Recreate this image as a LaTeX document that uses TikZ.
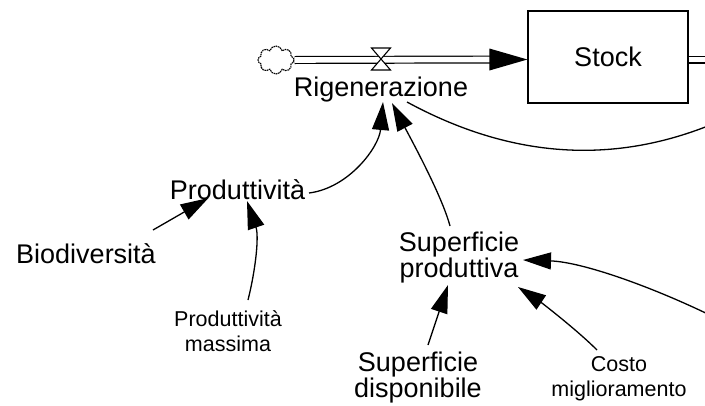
\documentclass[tikz,border=0pt]{standalone}
\usepackage{fontspec}
\setmainfont{Liberation Sans}
\usetikzlibrary{arrows.meta,shapes.symbols,calc}

\begin{document}
\begin{tikzpicture}[x=1pt,y=-1pt,
  big/.style={inner sep=0pt, font=\fontsize{27}{26}\selectfont},
  bigtwo/.style={big, align=center},
  sm/.style={inner sep=0pt, font=\fontsize{21.5}{25}\selectfont, align=center},
  link/.style={line width=1.3pt, -{Triangle[length=28pt,width=17pt]}},
  plainlink/.style={line width=1.3pt},
  pipe/.style={double=white, double distance=5.6pt, line width=1.2pt},
  valvebox/.style={fill=white, draw=black, line width=1.1pt, line join=miter},
]
\useasboundingbox (0,0) rectangle (705,405);
\clip (0,0) rectangle (705,405);

% stock and flow
\node[cloud, cloud puffs=8, cloud ignores aspect, draw, line width=1.1pt,
      dash pattern=on 1.6pt off 0.7pt, minimum width=36pt, minimum height=28pt,
      inner sep=0pt] (src) at (276,60) {};
\node[draw, line width=1.2pt, minimum width=160pt, minimum height=92pt,
      big] (stock) at (608,57) {Stock};
\coordinate (valve) at (381,59);
\coordinate (sink) at (715,59.5);

\draw[pipe] (src.east) -- ($(stock.west)+(-36,2.5)$);
\fill ($(stock.west)+(0,2.5)$) -- ++(-38,-11) -- ++(0,22) -- cycle;
\draw[pipe] ($(stock.east)+(0,2.5)$) -- (sink);
\filldraw[valvebox, shift={(valve)}] (-9.5,-11) -- (9.5,-11) -- (-9.5,11) -- (9.5,11) -- cycle;

% variables
\node[big, anchor=base] (rig) at (381,96) {Rigenerazione};
\node[big, anchor=base] (prod) at (237.5,199) {Produttività};
\node[big, anchor=base] (bio) at (86,263) {Biodiversità};
\node[sm] (prodmax) at (228,331) {Produttività\\massima};
\node[bigtwo] (supprod) at (459,258) {Superficie\\produttiva};
\node[bigtwo] (supdisp) at (418,378) {Superficie\\disponibile};
\node[sm] (costo) at (619,379) {Costo\\miglioramento};
\coordinate (edgeA) at (720,121);
\coordinate (edgeB) at (720,320);

% links
\draw[link] ([shift={(67,-33)}]bio.base) -- ([shift={(-29,-1)}]prod.base);
\draw[link] ([shift={(20,-31)}]prodmax.center) .. controls +(8,-32) and +(12,35) .. ([shift={(9.5,2)}]prod.base);
\draw[link] ([shift={(71.5,-6)}]prod.base) .. controls +(40,-5) and +(-4,45) .. ([shift={(2,6)}]rig.base);
\draw[link] ([shift={(-9,-32)}]supprod.center) .. controls +(-8,-30) and +(20,38) .. ([shift={(11,7)}]rig.base);
\draw[plainlink] ([shift={(26,6)}]rig.base) .. controls +(104.3,56.7) and +(-104.4,45.1) .. (edgeA);
\draw[link] (edgeB) .. controls +(-64,-32) and +(60,2) .. ([shift={(64,2)}]supprod.center);
\draw[link] ([shift={(-22,-29)}]costo.center) .. controls +(-20,-20) and +(24,16) .. ([shift={(59,29)}]supprod.center);
\draw[link] ([shift={(10,-33)}]supdisp.center) -- ([shift={(-11,27)}]supprod.center);
\end{tikzpicture}
\end{document}
